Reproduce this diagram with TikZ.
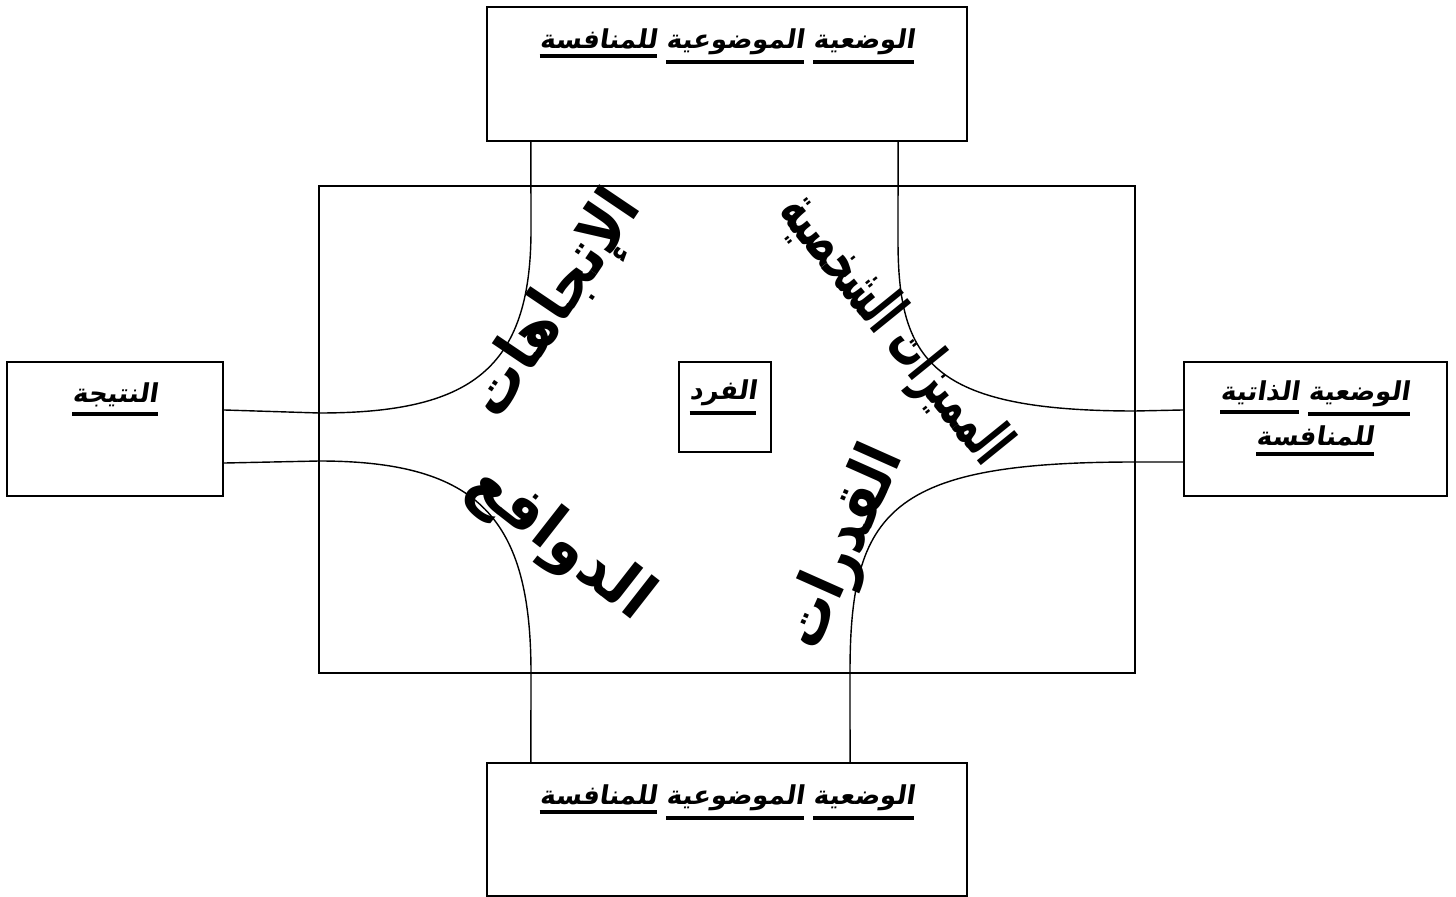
\documentclass[tikz,border=0pt]{standalone}
\usepackage{fontspec}
\usepackage{graphicx}
\newfontfamily\arabicfont[Script=Arabic,FakeSlant=0.15]{DejaVu Sans}
\newfontfamily\arabicbig[Script=Arabic]{DejaVu Sans}
\TeXXeTstate=1
\usetikzlibrary{positioning}

% one underlined word
\newcommand{\ulword}[1]{\vtop{\hbox{#1}\kern1.5pt\hrule height 1.1pt}}

\tikzset{
  box/.style={draw, line width=0.6pt, inner sep=0pt},
  boxtext/.style={font=\arabicfont\bfseries\fontsize{7.4}{13}\selectfont, align=center},
  bigword/.style={font=\arabicbig\bfseries\fontsize{18}{20}\selectfont}
}

\begin{document}
\begin{tikzpicture}[x=0.01cm, y=-0.01cm]
\useasboundingbox (0,0) rectangle (1456,897);

\node[box, minimum width=4.8cm, minimum height=1.34cm] (top) at (727,74) {};
\node[box, minimum width=4.8cm, minimum height=1.33cm] (bot) at (727,829.5) {};
\node[box, minimum width=2.16cm, minimum height=1.34cm] (res) at (115,429) {};
\node[box, minimum width=2.63cm, minimum height=1.34cm] (self) at (1315.5,429) {};
\node[box, minimum width=8.16cm, minimum height=4.87cm] (big) at (727,429.5) {};
\node[box, minimum width=0.92cm, minimum height=0.90cm] (ind) at (725,407) {};

\node[boxtext] (toptext) at (727,46) {\beginR\ulword{الوضعية} \ulword{الموضوعية} \ulword{للمنافسة}\endR};
\node[boxtext] (bottext) at (727,802) {\beginR\ulword{الوضعية} \ulword{الموضوعية} \ulword{للمنافسة}\endR};
\node[boxtext] (restext) at (115,399) {\beginR\ulword{النتيجة}\endR};
\node[boxtext] (selftext) at (1315,418) {\beginR\ulword{الوضعية} \ulword{الذاتية}\endR\\ \beginR\ulword{للمنافسة}\endR};
\node[boxtext] (indtext) at (723,397) {\beginR\ulword{الفرد}\endR};

% curves through the big box
\draw ([xshift=-1.96cm]top.south) -- (531,230) .. controls (531,370) and (470,413) .. (319,413) -- ([yshift=.19cm]res.east);
\draw ([xshift=1.71cm]top.south) -- (898,240) .. controls (898,360) and (930,411) .. (1135,411) -- ([yshift=.19cm]self.west);
\draw ([yshift=-.34cm]res.east) -- (319,461) .. controls (480,461) and (531,520) .. (531,673) -- ([xshift=-1.96cm]bot.north);
\draw ([yshift=-.33cm]self.west) -- (1135,462) .. controls (890,462) and (850,510) .. (850,673) -- ([xshift=1.23cm]bot.north);

\node[bigword, rotate=56] (att) at (557,305) {\scalebox{0.88}[1]{\beginR الإتجاهات\endR}};
\node[bigword, rotate=-51] (pers) at (893,330) {\scalebox{0.56}[1]{\beginR المميزات الشخصية\endR}};
\node[bigword, rotate=-38] (mot) at (560,543) {\scalebox{0.94}[1]{\beginR الدوافع\endR}};
\node[bigword, rotate=66] (abil) at (845,548) {\scalebox{0.86}[1]{\beginR القدرات\endR}};
\end{tikzpicture}
\end{document}
